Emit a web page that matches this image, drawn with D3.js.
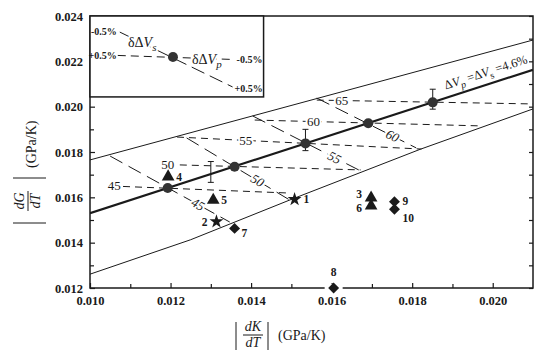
<!DOCTYPE html>
<html><head><meta charset="utf-8">
<script src="https://cdn.jsdelivr.net/npm/d3@7"></script>
<style>
body{margin:0;background:#fff}
svg{display:block}
text{font-family:"Liberation Serif","Times New Roman","DejaVu Serif",serif;fill:#1a1a1a}
.halo{paint-order:stroke;stroke:#fff;stroke-width:4px;stroke-linejoin:round}
</style>
</head><body><svg id="c" width="550" height="362"></svg>
<script>
// ---------- data ----------
const xDomain=[0.010,0.021], yDomain=[0.012,0.024];
const xTicks=[0.010,0.012,0.014,0.016,0.018,0.020];
const xTickLabels=["0.010","0.012","0.014","0.016","0.018","0.020"];
const yTicks=[0.012,0.014,0.016,0.018,0.020,0.022,0.024];
const yTickLabels=["0.012","0.014","0.016","0.018","0.020","0.022","0.024"];
const xMinor=[0.011,0.013,0.015,0.017,0.019];
const yMinor=[0.013,0.015,0.017,0.019,0.021,0.023];

const circleDK=[0.01193,0.01359,0.01535,0.01691,0.01851];
const circleDG=[0.01641,0.01735,0.01838,0.01927,0.02019];

const starId=["1","2"], starDK=[0.01508,0.01314], starDG=[0.01591,0.01493];
const triId=["3","4","5","6"], triDK=[0.01698,0.01194,0.01306,0.01698], triDG=[0.01598,0.01691,0.01588,0.01562];
const diaId=["7","8","9","10"], diaDK=[0.01359,0.01605,0.01756,0.01756], diaDG=[0.01463,0.01200,0.01581,0.01547];

const errDK=[0.01300,0.01535,0.01851], errLow=[0.01666,0.01806,0.01989], errHigh=[0.01758,0.01900,0.02077];

const midLineDK=[0.010,0.021], midLineDG=[0.01530,0.02163];
const upperLineDK=[0.010,0.021], upperLineDG=[0.01765,0.02294];
const lowerLineDK=[0.010,0.0125,0.015,0.0182,0.021], lowerLineDG=[0.01261,0.01413,0.01591,0.01812,0.01990];

const isoLabels=["45","50","55","60","65"];
const isoDK1=[0.01082,0.01223,0.01216,0.01409,0.01563], isoDG1=[0.01648,0.01743,0.01866,0.01941,0.02029];
const isoDK2=[0.01493,0.01672,0.01823,0.01974,0.02100], isoDG2=[0.01619,0.01721,0.01813,0.01915,0.02012];
const isoLabelDK=[0.01060,0.01193,0.01387,0.01555,0.01625];

const diagLabels=["45","50","55","60"];
const diagDK1=[0.01050,0.01240,0.01404,0.01563], diagDG1=[0.01782,0.01862,0.01959,0.02038];
const diagDK2=[0.01347,0.01496,0.01677,0.01810], diagDG2=[0.01491,0.01588,0.01712,0.01818];
const diagLabelDK=[0.01268,0.01416,0.01607,0.01751];

const insetBoxDK=[0.010,0.01431], insetBoxDG=[0.02043,0.024];
const insetDotDK=0.01206, insetDotDG=0.02219;
const insetPDK=[0.01069,0.01359], insetPDG=[0.02226,0.02208];
const insetSDK=[0.01074,0.01354], insetSDG=[0.02329,0.02087];

// ---------- setup ----------
const svg=d3.select("#c");
const ink="#1a1a1a";
const x=d3.scaleLinear().domain(xDomain).range([90,533]);
const y=d3.scaleLinear().domain(yDomain).range([288,16]);
const line=d3.line().x(d=>x(d[0])).y(d=>y(d[1]));

svg.append("defs").append("clipPath").attr("id","clip")
  .append("rect").attr("x",x(xDomain[0])).attr("y",y(yDomain[1]))
  .attr("width",x(xDomain[1])-x(xDomain[0])).attr("height",y(yDomain[0])-y(yDomain[1]));
const plot=svg.append("g").attr("clip-path","url(#clip)");

// envelope lines
plot.append("path").attr("d",line(d3.zip(upperLineDK,upperLineDG))).attr("fill","none").attr("stroke",ink).attr("stroke-width",1);
plot.append("path").attr("d",line(d3.zip(lowerLineDK,lowerLineDG))).attr("fill","none").attr("stroke",ink).attr("stroke-width",1);
plot.append("path").attr("d",line(d3.zip(midLineDK,midLineDG))).attr("fill","none").attr("stroke",ink).attr("stroke-width",2.2);

// iso (horizontal) dashed lines
isoLabels.forEach((lab,i)=>{
  plot.append("path").attr("d",line([[isoDK1[i],isoDG1[i]],[isoDK2[i],isoDG2[i]]]))
    .attr("fill","none").attr("stroke",ink).attr("stroke-width",1).attr("stroke-dasharray","7,5");
});
// diagonal dashed lines
diagLabels.forEach((lab,i)=>{
  plot.append("path").attr("d",line([[diagDK1[i],diagDG1[i]],[diagDK2[i],diagDG2[i]]]))
    .attr("fill","none").attr("stroke",ink).attr("stroke-width",1).attr("stroke-dasharray","14,7");
});

// iso labels
isoLabels.forEach((lab,i)=>{
  const lx=isoLabelDK[i];
  const ly=isoDG1[i]+(isoDG2[i]-isoDG1[i])*(lx-isoDK1[i])/(isoDK2[i]-isoDK1[i]);
  svg.append("text").attr("class","halo").attr("x",x(lx)).attr("y",y(ly)).attr("dy","0.33em")
    .attr("text-anchor","middle").attr("font-size",13).text(lab);
});
// diagonal labels
diagLabels.forEach((lab,i)=>{
  const lx=diagLabelDK[i];
  const ly=diagDG1[i]+(diagDG2[i]-diagDG1[i])*(lx-diagDK1[i])/(diagDK2[i]-diagDK1[i]);
  const ang=Math.atan2(y(diagDG2[i])-y(diagDG1[i]),x(diagDK2[i])-x(diagDK1[i]))*180/Math.PI;
  svg.append("text").attr("class","halo")
    .attr("transform",`translate(${x(lx)},${y(ly)}) rotate(${ang})`)
    .attr("dy","0.33em").attr("text-anchor","middle").attr("font-size",13).attr("font-style","italic").text(lab);
});

// error bars
errDK.forEach((d,i)=>{
  const g=svg.append("g").attr("stroke",ink).attr("stroke-width",1);
  g.append("line").attr("x1",x(d)).attr("x2",x(d)).attr("y1",y(errLow[i])).attr("y2",y(errHigh[i]));
  g.append("line").attr("x1",x(d)-3).attr("x2",x(d)+3).attr("y1",y(errLow[i])).attr("y2",y(errLow[i]));
  g.append("line").attr("x1",x(d)-3).attr("x2",x(d)+3).attr("y1",y(errHigh[i])).attr("y2",y(errHigh[i]));
});

// circles
svg.selectAll("circle.pt").data(d3.zip(circleDK,circleDG)).join("circle").attr("class","pt")
  .attr("cx",d=>x(d[0])).attr("cy",d=>y(d[1])).attr("r",5).attr("fill","#333");

// ΔVp=ΔVs label along thick line
{
  const lx=0.01992;
  const ly=midLineDG[0]+(midLineDG[1]-midLineDG[0])*(lx-midLineDK[0])/(midLineDK[1]-midLineDK[0]);
  const ang=Math.atan2(y(midLineDG[1])-y(midLineDG[0]),x(midLineDK[1])-x(midLineDK[0]))*180/Math.PI;
  const t=svg.append("text").attr("transform",`translate(${x(lx)},${y(ly)}) rotate(${ang})`)
    .attr("y",-8).attr("text-anchor","middle").attr("font-size",12.5);
  t.append("tspan").text("Δ");
  t.append("tspan").attr("font-style","italic").text("V");
  t.append("tspan").attr("font-style","italic").attr("font-size",10).attr("dy",4).text("p");
  t.append("tspan").attr("dy",-4).text(" =Δ");
  t.append("tspan").attr("font-style","italic").text("V");
  t.append("tspan").attr("font-size",10).attr("dy",4).text("s");
  t.append("tspan").attr("dy",-4).text(" =4.6%");
}

// axes
const frame=svg.append("g").attr("stroke",ink).attr("stroke-width",1.5).attr("fill","none");
frame.append("rect").attr("x",x(xDomain[0])).attr("y",y(yDomain[1]))
  .attr("width",x(xDomain[1])-x(xDomain[0])).attr("height",y(yDomain[0])-y(yDomain[1]));

function styleAxis(g){g.attr("font-family",null);g.select(".domain").remove();g.selectAll("line").attr("stroke",ink).attr("stroke-width",1.2);
  g.selectAll("text").attr("font-weight","bold").attr("font-size",12.5).attr("fill",ink);}
svg.append("g").attr("transform",`translate(0,${y(yDomain[0])})`)
  .call(d3.axisBottom(x).tickValues(xTicks).tickFormat((d,i)=>xTickLabels[i]).tickSize(-5).tickPadding(8)).call(styleAxis);
svg.append("g").attr("transform",`translate(0,${y(yDomain[0])})`)
  .call(d3.axisBottom(x).tickValues(xMinor).tickFormat("").tickSize(-4)).call(styleAxis);
svg.append("g").attr("transform",`translate(${x(xDomain[0])},0)`)
  .call(d3.axisLeft(y).tickValues(yTicks).tickFormat((d,i)=>yTickLabels[i]).tickSize(-5).tickPadding(7)).call(styleAxis);
svg.append("g").attr("transform",`translate(${x(xDomain[0])},0)`)
  .call(d3.axisLeft(y).tickValues(yMinor).tickFormat("").tickSize(-4)).call(styleAxis);
svg.append("g").attr("transform",`translate(${x(xDomain[1])},0)`)
  .call(d3.axisRight(y).tickValues(yTicks.concat(yMinor)).tickFormat("").tickSize(-4)).call(styleAxis);

// markers
const sym=(type,size)=>d3.symbol().type(type).size(size)();
const lblOff={"1":[9,4,"start"],"2":[-9,4,"end"],"3":[-9,0,"end"],"4":[8,4,"start"],"5":[8,4,"start"],
  "6":[-9,6,"end"],"7":[7,9,"start"],"8":[0,-12,"middle"],"9":[8,3,"start"],"10":[8,13,"start"]};
function drawMarkers(ids,dk,dg,path,rot){
  ids.forEach((id,i)=>{
    const px=x(dk[i]), py=y(dg[i]);
    if(id==="8"){svg.append("rect").attr("x",px-9).attr("y",py-4).attr("width",18).attr("height",9).attr("fill","#fff");}
    svg.append("path").attr("d",path).attr("transform",`translate(${px},${py}) rotate(${rot})`).attr("fill","#1a1a1a");
    const o=lblOff[id];
    svg.append("text").attr("x",px+o[0]).attr("y",py+o[1]).attr("text-anchor",o[2])
      .attr("font-weight","bold").attr("font-size",11.5).text(id);
  });
}
drawMarkers(starId,starDK,starDG,sym(d3.symbolStar,60),0);
drawMarkers(triId,triDK,triDG,sym(d3.symbolTriangle,70),0);
drawMarkers(diaId,diaDK,diaDG,sym(d3.symbolSquare,60),45);

// inset
svg.append("rect").attr("x",x(insetBoxDK[0])).attr("y",y(insetBoxDG[1]))
  .attr("width",x(insetBoxDK[1])-x(insetBoxDK[0])).attr("height",y(insetBoxDG[0])-y(insetBoxDG[1]))
  .attr("fill","#fff").attr("stroke",ink).attr("stroke-width",1.5);
svg.append("path").attr("d",line(d3.zip(insetPDK,insetPDG))).attr("fill","none").attr("stroke",ink).attr("stroke-width",1).attr("stroke-dasharray","8,5");
svg.append("path").attr("d",line(d3.zip(insetSDK,insetSDG))).attr("fill","none").attr("stroke",ink).attr("stroke-width",1).attr("stroke-dasharray","14,6");
svg.append("circle").attr("cx",x(insetDotDK)).attr("cy",y(insetDotDG)).attr("r",5).attr("fill","#333");
const small=(px,py,anchor,txt)=>svg.append("text").attr("x",px).attr("y",py).attr("text-anchor",anchor)
  .attr("font-size",10).attr("font-weight","bold").text(txt);
small(x(insetSDK[0])-3,y(insetSDG[0])+3,"end","-0.5%");
small(x(insetPDK[0])-1,y(insetPDG[0])+3.5,"end","+0.5%");
small(x(insetPDK[1])+2,y(insetPDG[1])+3.5,"start","-0.5%");
small(x(insetSDK[1])+2,y(insetSDG[1])+5,"start","+0.5%");
function dvLabel(px,py,sub){
  const t=svg.append("text").attr("class","halo").attr("x",px).attr("y",py).attr("font-size",14);
  t.append("tspan").text("δΔ");
  t.append("tspan").attr("font-style","italic").text("V");
  t.append("tspan").attr("font-style","italic").attr("font-size",11).attr("dy",4).text(sub);
}
dvLabel(128,47,"s");
dvLabel(192,64,"p");

// axis titles
function fracLabel(g,num,den){
  g.append("text").attr("x",0).attr("y",-4).attr("text-anchor","middle").attr("font-style","italic").attr("font-size",14).text(num);
  g.append("line").attr("x1",-10).attr("x2",10).attr("y1",0).attr("y2",0).attr("stroke",ink).attr("stroke-width",1);
  g.append("text").attr("x",0).attr("y",12).attr("text-anchor","middle").attr("font-style","italic").attr("font-size",14).text(den);
}
{
  const g=svg.append("g").attr("transform","translate(253,335)");
  fracLabel(g,"dK","dT");
  g.append("line").attr("x1",-17).attr("x2",-17).attr("y1",-13).attr("y2",15).attr("stroke",ink).attr("stroke-width",1);
  g.append("line").attr("x1",15).attr("x2",15).attr("y1",-13).attr("y2",15).attr("stroke",ink).attr("stroke-width",1);
  g.append("text").attr("x",25).attr("y",5).attr("font-size",14).text("(GPa/K)");
}
{
  const g=svg.append("g").attr("transform","translate(28,201) rotate(-90)");
  fracLabel(g,"dG","dT");
  g.append("line").attr("x1",-22).attr("x2",-22).attr("y1",-15).attr("y2",18).attr("stroke",ink).attr("stroke-width",1);
  g.append("line").attr("x1",23).attr("x2",23).attr("y1",-15).attr("y2",18).attr("stroke",ink).attr("stroke-width",1);
  g.append("text").attr("x",33).attr("y",8).attr("font-size",14).text("(GPa/K)");
}
</script>
</body></html>
